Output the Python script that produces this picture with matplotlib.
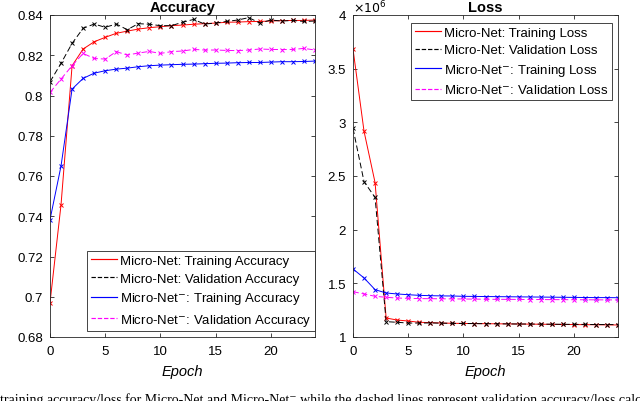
import matplotlib
matplotlib.use("Agg")
import matplotlib.pyplot as plt
import matplotlib.lines as mlines

epochs = list(range(25))

# Accuracy
acc_train_mn = [0.697, 0.7458, 0.8148, 0.8231, 0.8267, 0.8289, 0.8309, 0.8320, 0.8330, 0.8337,
                0.8342, 0.8347, 0.8350, 0.8354, 0.8357, 0.8360, 0.8364, 0.8365, 0.8367, 0.8368,
                0.8370, 0.8372, 0.8373, 0.8373, 0.8375]
acc_val_mn = [0.8068, 0.8160, 0.8259, 0.8334, 0.8355, 0.8339, 0.8355, 0.8327, 0.8357, 0.8354,
              0.8347, 0.8347, 0.8364, 0.8378, 0.8355, 0.8360, 0.8368, 0.8375, 0.8387, 0.8360,
              0.8375, 0.8370, 0.8373, 0.8368, 0.8370]
acc_train_mnm = [0.7383, 0.7650, 0.8032, 0.8085, 0.8111, 0.8123, 0.8131, 0.8136, 0.8143, 0.8148,
                 0.8151, 0.8153, 0.8155, 0.8156, 0.8158, 0.8160, 0.8161, 0.8163, 0.8164, 0.8164,
                 0.8166, 0.8168, 0.8168, 0.8169, 0.8171]
acc_val_mnm = [0.8015, 0.8082, 0.8148, 0.8209, 0.8184, 0.8181, 0.8218, 0.8201, 0.8211, 0.8219,
               0.8209, 0.8218, 0.8221, 0.8229, 0.8226, 0.8226, 0.8224, 0.8223, 0.8226, 0.8231,
               0.8229, 0.8228, 0.8229, 0.8234, 0.8226]

# Loss (x 10^6)
loss_train_mn = [3.683, 2.916, 2.438, 1.177, 1.158, 1.149, 1.137, 1.134, 1.130, 1.128,
                 1.126, 1.125, 1.124, 1.123, 1.122, 1.121, 1.120, 1.119, 1.118, 1.117,
                 1.116, 1.115, 1.114, 1.113, 1.112]
loss_val_mn = [2.944, 2.447, 2.300, 1.143, 1.137, 1.130, 1.130, 1.131, 1.129, 1.127,
               1.126, 1.125, 1.124, 1.123, 1.122, 1.121, 1.121, 1.120, 1.119, 1.118,
               1.118, 1.117, 1.116, 1.116, 1.115]
loss_train_mnm = [1.634, 1.550, 1.441, 1.410, 1.401, 1.394, 1.388, 1.385, 1.383, 1.382,
                  1.379, 1.378, 1.377, 1.376, 1.375, 1.374, 1.373, 1.372, 1.371, 1.370,
                  1.369, 1.368, 1.367, 1.367, 1.366]
loss_val_mnm = [1.422, 1.401, 1.379, 1.370, 1.363, 1.360, 1.358, 1.357, 1.356, 1.355,
                1.354, 1.353, 1.352, 1.351, 1.351, 1.350, 1.349, 1.349, 1.348, 1.348,
                1.347, 1.347, 1.346, 1.346, 1.345]

acc_ticks = [0.68, 0.70, 0.72, 0.74, 0.76, 0.78, 0.80, 0.82, 0.84]
acc_ticklabels = ['0.68', '0.7', '0.72', '0.74', '0.76', '0.78', '0.8', '0.82', '0.84']
loss_ticks = [1, 1.5, 2, 2.5, 3, 3.5, 4]
loss_ticklabels = ['1', '1.5', '2', '2.5', '3', '3.5', '4']
x_ticks = [0, 5, 10, 15, 20]

plt.rcParams['font.family'] = ['Liberation Sans', 'DejaVu Sans']

fig = plt.figure(figsize=(6.4, 4.02), dpi=100)
axL = fig.add_axes([50/640, 1-338/402, 265/640, 322/402])
axR = fig.add_axes([353/640, 1-338/402, 265/640, 322/402])

lw = 0.7
ms = 3.0
mew = 0.7
dash = (0, (6, 3))

def style(ax):
    ax.tick_params(direction='in', top=True, right=True, labelsize=9.5, length=3, width=0.6,
                   colors='#262626', labelcolor='black', pad=6)
    for s in ax.spines.values():
        s.set_color('#262626')
        s.set_linewidth(0.6)
    ax.set_xlim(0, 24)
    ax.set_xticks(x_ticks)
    ax.set_xticklabels([str(t) for t in x_ticks])
    ax.set_xlabel('Epoch', style='italic', fontsize=10.5, labelpad=5)
    ax.tick_params(axis='y', pad=5)

axL.plot(epochs, acc_train_mn, color='red', lw=lw, marker='x', ms=ms, mew=mew, label='Micro-Net: Training Accuracy')
axL.plot(epochs, acc_val_mn, color='black', lw=lw, ls=dash, marker='x', ms=ms, mew=mew, label='Micro-Net: Validation Accuracy')
axL.plot(epochs, acc_train_mnm, color='blue', lw=lw, marker='x', ms=ms, mew=mew, label='Micro-Net$^{-}$: Training Accuracy')
axL.plot(epochs, acc_val_mnm, color='magenta', lw=lw, ls=dash, marker='x', ms=ms, mew=mew, label='Micro-Net$^{-}$: Validation Accuracy')
axL.set_ylim(0.68, 0.84)
axL.set_yticks(acc_ticks)
axL.set_yticklabels(acc_ticklabels)
axL.set_title('Accuracy', fontweight='bold', fontsize=10.5, pad=3)
style(axL)

axR.plot(epochs, loss_train_mn, color='red', lw=lw, marker='x', ms=ms, mew=mew, label='Micro-Net: Training Loss')
axR.plot(epochs, loss_val_mn, color='black', lw=lw, ls=dash, marker='x', ms=ms, mew=mew, label='Micro-Net: Validation Loss')
axR.plot(epochs, loss_train_mnm, color='blue', lw=lw, marker='x', ms=ms, mew=mew, label='Micro-Net$^{-}$: Training Loss')
axR.plot(epochs, loss_val_mnm, color='magenta', lw=lw, ls=dash, marker='x', ms=ms, mew=mew, label='Micro-Net$^{-}$: Validation Loss')
axR.set_ylim(1, 4)
axR.set_yticks(loss_ticks)
axR.set_yticklabels(loss_ticklabels)
axR.set_title('Loss', fontweight='bold', fontsize=10.5, pad=3)
axR.text(0.0, 1.009, r'$\times10^{6}$', transform=axR.transAxes, fontsize=9, ha='left', va='baseline')
style(axR)

def mk_legend(ax, loc, anchor):
    h, l = ax.get_legend_handles_labels()
    hh = [mlines.Line2D([], [], color=x.get_color(), ls=x.get_linestyle(), lw=0.85) for x in h]
    leg = ax.legend(hh, l, loc=loc, bbox_to_anchor=anchor, fontsize=9.5, frameon=True, fancybox=False,
                    edgecolor='#262626', framealpha=1, borderpad=0.25, labelspacing=0.42,
                    handlelength=2.0, handletextpad=0.25, borderaxespad=0)
    leg.get_frame().set_linewidth(0.6)
    return leg

mk_legend(axL, 'lower right', (1.0, 0.0186))
mk_legend(axR, 'upper right', (0.977, 0.975))

fig.text(0.0, -0.004,
         'training accuracy/loss for Micro-Net and Micro-Net\u207b while the dashed lines represent validation accuracy/loss calc',
         family=['Liberation Serif', 'DejaVu Serif'], fontsize=10, ha='left', va='baseline')

fig.savefig('out.png', dpi=100)
